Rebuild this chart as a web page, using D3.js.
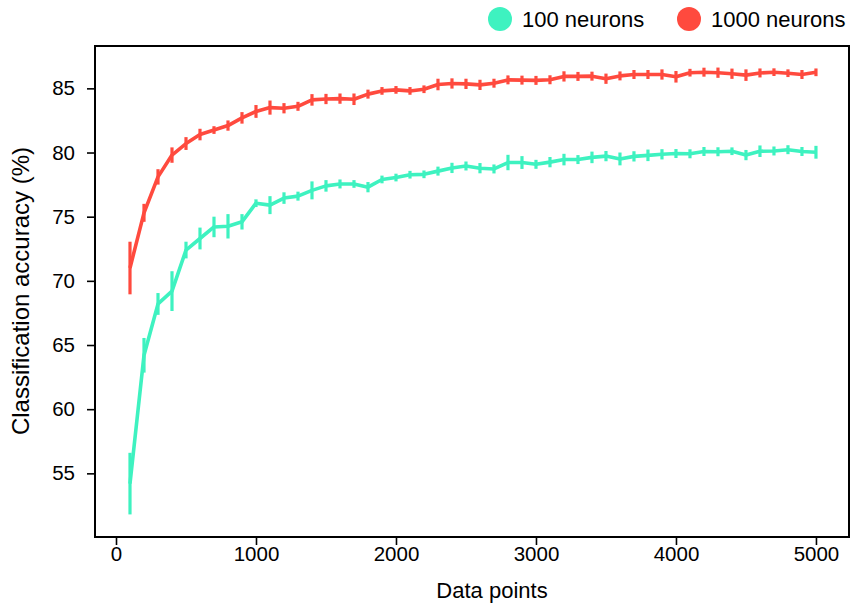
<!DOCTYPE html>
<html>
<head>
<meta charset="utf-8">
<script src="https://cdn.jsdelivr.net/npm/d3@7/dist/d3.min.js"></script>
<style>
  html, body { margin: 0; padding: 0; background: #fff; }
  svg { display: block; }
  text { font-family: "Liberation Sans", Arial, Helvetica, sans-serif; fill: #000; }
</style>
</head>
<body>
<svg id="chart" width="850" height="607"></svg>
<script>
const dataPoints = [100, 200, 300, 400, 500, 600, 700, 800, 900, 1000,
  1100, 1200, 1300, 1400, 1500, 1600, 1700, 1800, 1900, 2000,
  2100, 2200, 2300, 2400, 2500, 2600, 2700, 2800, 2900, 3000,
  3100, 3200, 3300, 3400, 3500, 3600, 3700, 3800, 3900, 4000,
  4100, 4200, 4300, 4400, 4500, 4600, 4700, 4800, 4900, 5000];

const acc1000 = [71.0, 75.3, 78.1, 79.8, 80.7, 81.4, 81.75, 82.1, 82.7, 83.2,
  83.5, 83.45, 83.6, 84.1, 84.17, 84.2, 84.15, 84.55, 84.8, 84.88,
  84.8, 84.93, 85.3, 85.38, 85.35, 85.27, 85.4, 85.66, 85.64, 85.62,
  85.67, 85.93, 85.93, 85.95, 85.75, 85.97, 86.08, 86.08, 86.08, 85.9,
  86.22, 86.26, 86.22, 86.14, 86.03, 86.2, 86.26, 86.18, 86.08, 86.25];
const err1000 = [2.05, 0.7, 0.6, 0.6, 0.5, 0.45, 0.3, 0.4, 0.45, 0.5,
  0.55, 0.4, 0.35, 0.45, 0.4, 0.4, 0.45, 0.35, 0.3, 0.3,
  0.3, 0.3, 0.45, 0.4, 0.4, 0.4, 0.35, 0.35, 0.35, 0.35,
  0.35, 0.4, 0.35, 0.35, 0.4, 0.35, 0.35, 0.35, 0.4, 0.45,
  0.3, 0.35, 0.4, 0.4, 0.45, 0.35, 0.3, 0.3, 0.35, 0.3];

const acc100 = [54.2, 64.2, 68.2, 69.2, 72.4, 73.3, 74.2, 74.25, 74.6, 76.05,
  75.9, 76.45, 76.6, 77.05, 77.4, 77.55, 77.55, 77.3, 77.9, 78.05,
  78.27, 78.3, 78.55, 78.8, 78.95, 78.78, 78.72, 79.22, 79.22, 79.08,
  79.25, 79.45, 79.45, 79.62, 79.72, 79.5, 79.7, 79.78, 79.86, 79.92,
  79.9, 80.08, 80.06, 80.1, 79.8, 80.1, 80.12, 80.22, 80.08, 80.02];
const err100 = [2.4, 1.35, 0.85, 1.55, 0.65, 0.85, 0.8, 0.95, 0.6, 0.3,
  0.7, 0.45, 0.35, 0.7, 0.45, 0.35, 0.3, 0.4, 0.3, 0.3,
  0.3, 0.3, 0.35, 0.4, 0.35, 0.4, 0.35, 0.6, 0.5, 0.35,
  0.4, 0.45, 0.35, 0.45, 0.4, 0.5, 0.4, 0.45, 0.4, 0.35,
  0.35, 0.35, 0.35, 0.3, 0.4, 0.45, 0.35, 0.35, 0.35, 0.5];

const seriesNames = ["100 neurons", "1000 neurons"];
const seriesColors = ["#3ef2c0", "#ff4a3e"];
const xTicks = [0, 1000, 2000, 3000, 4000, 5000];
const yTicks = [55, 60, 65, 70, 75, 80, 85];
const xLabel = "Data points";
const yLabel = "Classification accuracy (%)";

const series = [
  { name: seriesNames[0], color: seriesColors[0], mean: acc100, err: err100 },
  { name: seriesNames[1], color: seriesColors[1], mean: acc1000, err: err1000 }
];

const svg = d3.select("#chart");
const frame = { left: 95, right: 849, top: 46, bottom: 537 };

const x = d3.scaleLinear().domain([-150, 5236]).range([frame.left, frame.right]);
const y = d3.scaleLinear().domain([50.04, 88.3]).range([frame.bottom, frame.top]);

// axes
const xAxis = svg.append("g")
  .attr("transform", `translate(0,${frame.bottom})`)
  .call(d3.axisBottom(x).tickValues(xTicks).tickFormat(d3.format("d")).tickSize(8).tickSizeOuter(0).tickPadding(1));
xAxis.select(".domain").remove();
xAxis.selectAll("line").attr("stroke", "#000").attr("stroke-width", 1.6);
xAxis.selectAll("text")
  .attr("font-size", 20.5)
  .attr("font-family", "Liberation Sans, Arial, sans-serif")
  .attr("fill", "#000");

const yAxis = svg.append("g")
  .attr("transform", `translate(${frame.left},0)`)
  .call(d3.axisLeft(y).tickValues(yTicks).tickSize(8).tickSizeOuter(0).tickPadding(12));
yAxis.select(".domain").remove();
yAxis.selectAll("line").attr("stroke", "#000").attr("stroke-width", 1.6);
yAxis.selectAll("text")
  .attr("font-size", 20.5)
  .attr("font-family", "Liberation Sans, Arial, sans-serif")
  .attr("fill", "#000");

// frame
svg.append("rect")
  .attr("x", frame.left).attr("y", frame.top)
  .attr("width", frame.right - frame.left).attr("height", frame.bottom - frame.top)
  .attr("fill", "none").attr("stroke", "#000").attr("stroke-width", 2);

// series
const line = d3.line().x((d) => x(d.x)).y((d) => y(d.m));
series.forEach((s) => {
  const pts = dataPoints.map((v, i) => ({ x: v, m: s.mean[i], e: s.err[i] }));
  const g = svg.append("g");
  g.selectAll("line.err").data(pts).enter().append("line")
    .attr("class", "err")
    .attr("x1", (d) => x(d.x)).attr("x2", (d) => x(d.x))
    .attr("y1", (d) => y(d.m - d.e)).attr("y2", (d) => y(d.m + d.e))
    .attr("stroke", s.color).attr("stroke-width", 3.2);
  g.append("path").datum(pts)
    .attr("d", line)
    .attr("fill", "none")
    .attr("stroke", s.color)
    .attr("stroke-width", 3.6)
    .attr("stroke-linejoin", "round");
});

// axis titles
svg.append("text")
  .attr("x", 492).attr("y", 598)
  .attr("text-anchor", "middle")
  .attr("font-size", 22)
  .text(xLabel);

svg.append("text")
  .attr("transform", `translate(29,291) rotate(-90)`)
  .attr("text-anchor", "middle")
  .attr("font-size", 24)
  .text(yLabel);

// legend
const legendX = [500, 689];
series.forEach((s, i) => {
  const lg = svg.append("g").attr("transform", `translate(${legendX[i]},19)`);
  lg.append("circle").attr("r", 12).attr("fill", s.color);
  lg.append("text")
    .attr("x", 22).attr("y", 8)
    .attr("font-size", 22)
    .text(s.name);
});
</script>
</body>
</html>
